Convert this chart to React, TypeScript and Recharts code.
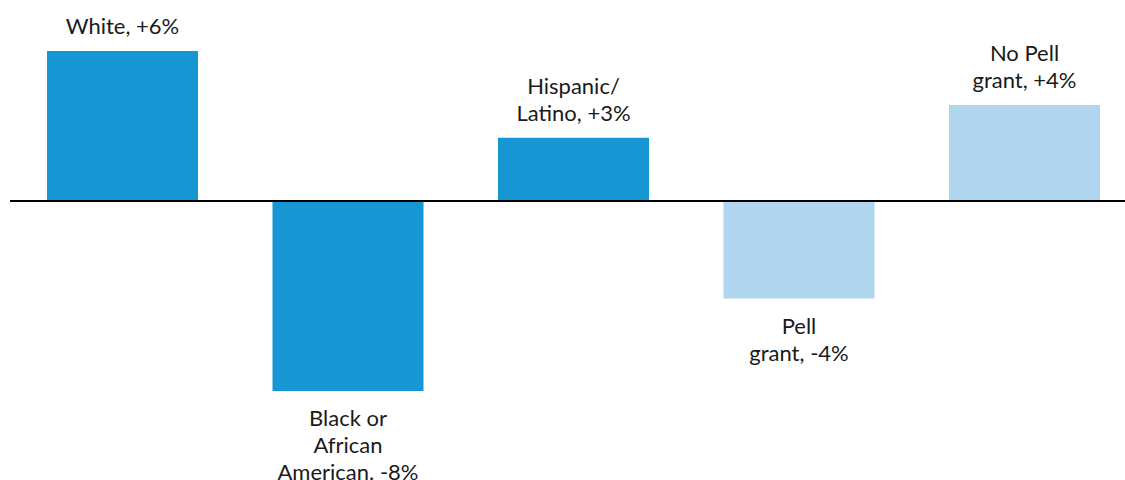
import React from "react";
import { BarChart, Bar, XAxis, YAxis, Cell, LabelList, ReferenceLine } from "recharts";

const categories = ["White", "Black or African American", "Hispanic/Latino", "Pell grant", "No Pell grant"];
const values = [6.0, -7.6, 2.53, -3.9, 3.84];
const labelLines = [
  ["White, +6%"],
  ["Black or", "African", "American. -8%"],
  ["Hispanic/", "Latino, +3%"],
  ["Pell", "grant, -4%"],
  ["No Pell", "grant, +4%"],
];
const barColors = ["#1696d2", "#1696d2", "#1696d2", "#b0d5ef", "#b0d5ef"];

const data = categories.map((c, i) => ({ category: c, value: values[i] }));

const LINE_H = 27;

const BarLabel = (props: any) => {
  const { x, y, width, height, index } = props;
  const lines = labelLines[index] || [];
  const top = Math.min(y, y + height);
  const bottom = Math.max(y, y + height);
  const cx = x + width / 2;
  const positive = values[index] >= 0;
  let firstBaseline: number;
  if (positive) {
    const lastBaseline = top - 17;
    firstBaseline = lastBaseline - (lines.length - 1) * LINE_H;
  } else {
    firstBaseline = bottom + 35;
  }
  return (
    <text
      x={cx}
      y={firstBaseline}
      textAnchor="middle"
      fill="#1a1a1a"
      fontSize={22}
      fontFamily="Lato, 'Noto Sans', sans-serif"
    >
      {lines.map((l, i) => (
        <tspan key={i} x={cx} y={firstBaseline + i * LINE_H}>
          {l}
        </tspan>
      ))}
    </text>
  );
};

export default function App() {
  return (
    <div style={{ width: 1125, height: 480 }}>
      <style>{`body{margin:0;}`}</style>
      <BarChart
        width={1125}
        height={480}
        data={data}
        margin={{ top: 1, right: -12.5, bottom: 4, left: 10 }}
        barSize={151}
      >
        <XAxis dataKey="category" hide />
        <YAxis hide domain={[-11, 8]} />
        <Bar dataKey="value" isAnimationActive={false}>
          {data.map((d, i) => (
            <Cell key={i} fill={barColors[i]} />
          ))}
          <LabelList dataKey="value" content={<BarLabel />} />
        </Bar>
        <ReferenceLine y={0} stroke="#000" strokeWidth={2} />
      </BarChart>
    </div>
  );
}
